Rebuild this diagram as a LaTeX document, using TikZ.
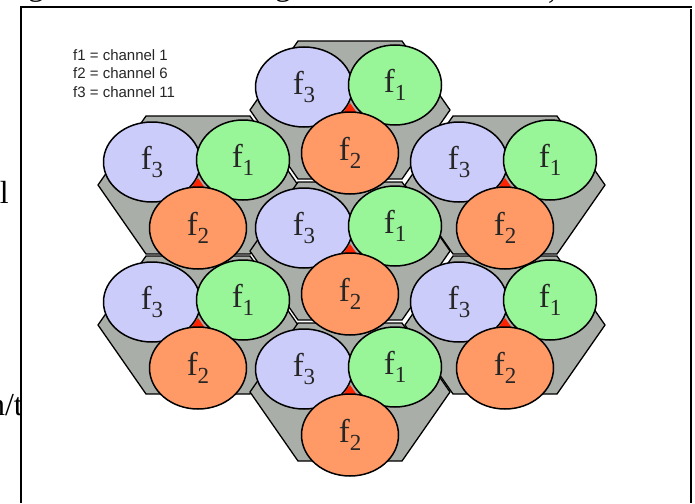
\documentclass[tikz,border=0pt]{standalone}
\usepackage{fontspec}
\setmainfont{Liberation Serif}
\newfontfamily\legendfont{Liberation Sans}
\usetikzlibrary{shapes.geometric}
\definecolor{lav}{HTML}{CCCCFA}
\definecolor{grn}{HTML}{98F598}
\definecolor{org}{HTML}{FF9966}
\definecolor{hexgray}{HTML}{AAAEA8}
\definecolor{gapred}{HTML}{FF2200}
\newcommand\flab[1]{\fontsize{33}{33}\selectfont f\raisebox{-8pt}{\fontsize{23}{23}\selectfont #1}}
\begin{document}
\begin{tikzpicture}[x=1pt,y=-1pt,
  cellA/.style={ellipse,draw=black,line width=1.5pt,inner sep=0pt,text=black!85},
  fthree/.style={cellA,fill=lav,minimum width=97pt,minimum height=80pt},
  fone/.style={cellA,fill=grn,minimum width=93pt,minimum height=80pt},
  ftwo/.style={cellA,fill=org,minimum width=97pt,minimum height=82pt},
  hexbg/.style={fill=hexgray,draw=black,line width=1.3pt,line join=round},
  legend/.style={anchor=west,inner sep=0pt,font=\legendfont\fontsize{15}{15}\selectfont,text=black!85},
  slidetext/.style={inner sep=0pt,font=\fontsize{32}{32}\selectfont},
  frameline/.style={line width=1.6pt,draw=black}]
\useasboundingbox (0,0) rectangle (695,503);
\fill[white] (0,0) rectangle (695,503);
% fragments of slide text behind the frame
\begin{scope}
\clip (0,0) rectangle (695,7);
\node[slidetext,anchor=base] (tg1) at (36,-4) {g};
\node[slidetext,anchor=base] (tg2) at (283,-4) {g};
\node[slidetext,anchor=base] (tc1) at (552,-1) {,};
\end{scope}
\begin{scope}
\clip (0,0) rectangle (21,503);
\node[slidetext,anchor=base east] (ll1) at (9,203) {l};
\node[slidetext,anchor=base east] (ll2) at (23,415) {n/t};
\end{scope}
% frame
\coordinate (fr1) at (21,503);
\coordinate (fr2) at (21,7);
\coordinate (fr3) at (692,7);
\coordinate (fr4) at (691,9);
\coordinate (fr5) at (691,503);
\draw[frameline] (fr1) -- (fr2) -- (fr3);
\draw[frameline] (fr4) -- (fr5);
% cluster centres
\foreach \n/\cx/\cy in {A/350/110,B/198/185,C/505/185,D/350/251,E/198/325,F/505/325,G/350/392}{
  \coordinate (\n) at (\cx,\cy);
}
% hexagons
\foreach \n in {A,B,C,D,E,F,G}{
  \draw[hexbg] ([shift={(-100,0)}]\n) -- ([shift={(-52,-69)}]\n) -- ([shift={(52,-69)}]\n)
     -- ([shift={(100,0)}]\n) -- ([shift={(52,69)}]\n) -- ([shift={(-52,69)}]\n) -- cycle;
}
% cells
\foreach \n in {A,B,C,D,E,F,G}{
  \fill[gapred] ([shift={(-7,3)}]\n) -- ([shift={(7,3)}]\n) -- ([shift={(0,-7)}]\n) -- cycle;
  \node[fthree] (\n3) at ([shift={(-46,-23)}]\n) {\flab{3}};
  \node[fone] (\n1) at ([shift={(45,-25)}]\n) {\flab{1}};
  \node[ftwo] (\n2) at ([shift={(0,43)}]\n) {\flab{2}};
}
% legend
\node[legend] (lg1) at (73,55) {f1 = channel 1};
\node[legend] (lg2) at (73,73) {f2 = channel 6};
\node[legend] (lg3) at (73,92) {f3 = channel 11};
\end{tikzpicture}
\end{document}
